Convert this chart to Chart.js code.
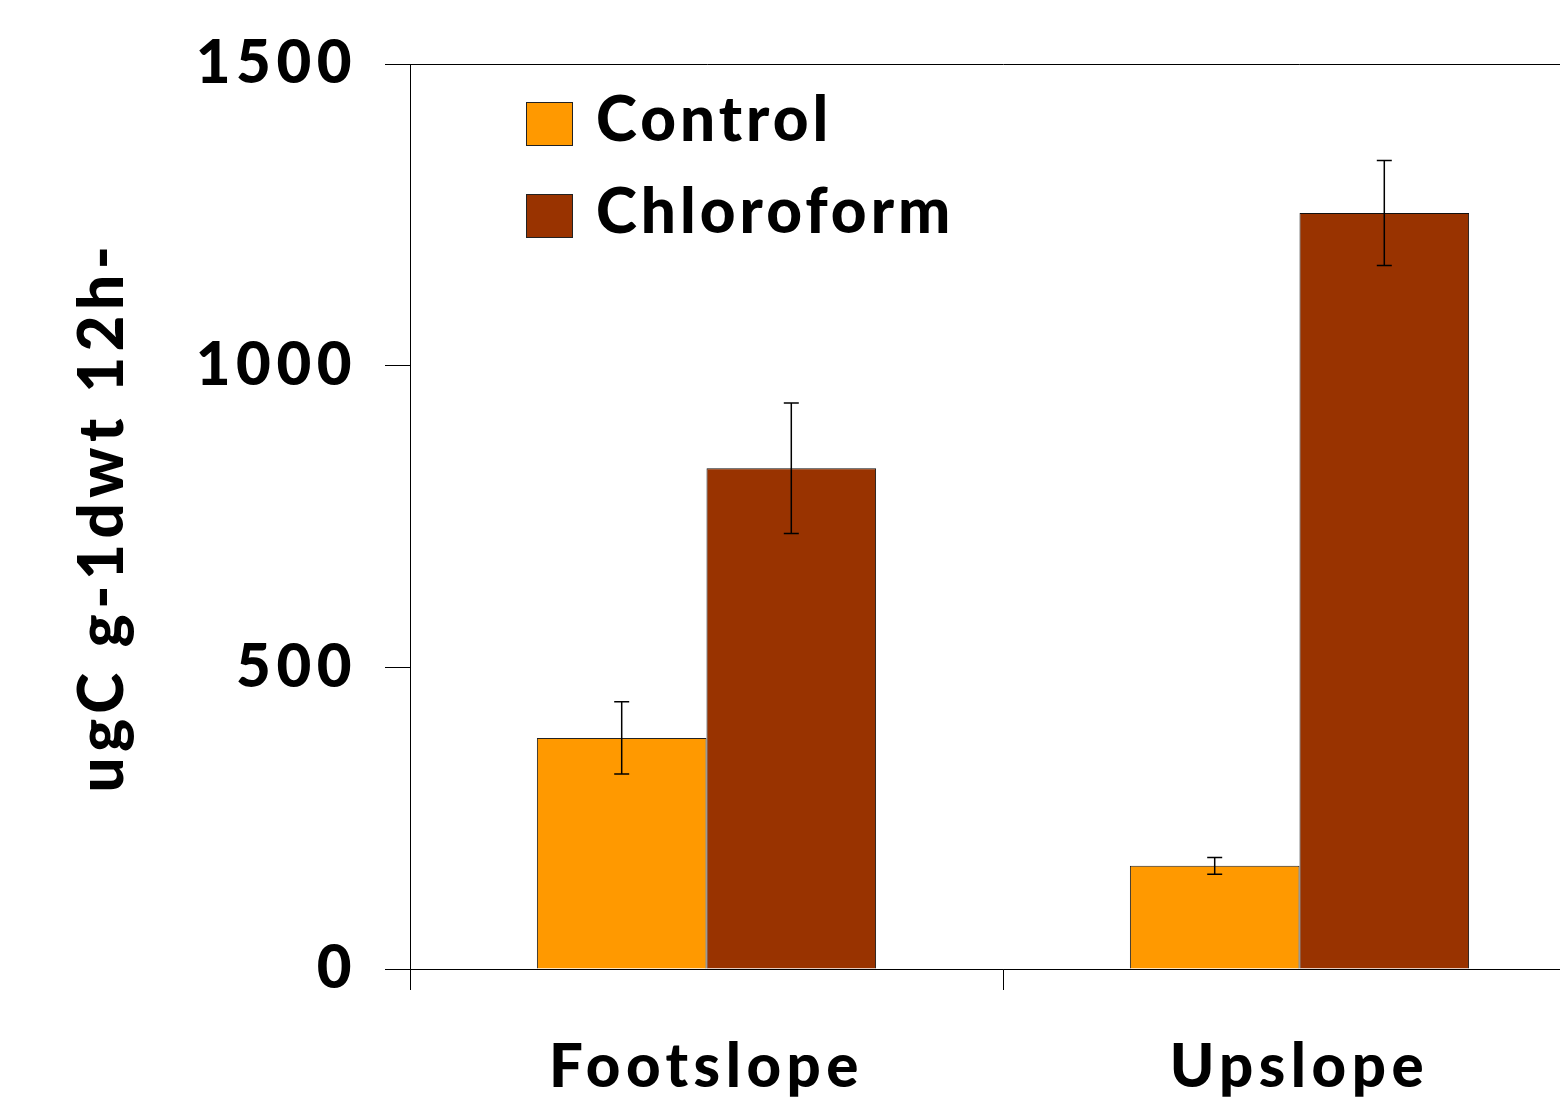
<!DOCTYPE html>
<html>
<head>
<meta charset="utf-8">
<script src="https://cdn.jsdelivr.net/npm/chart.js@4"></script>
<style>
  html, body { margin: 0; padding: 0; background: #fff; overflow: hidden; }
  #wrap { width: 1600px; height: 1103px; }
</style>
</head>
<body>
<div id="wrap"><canvas id="respChart" width="1600" height="1103"></canvas></div>
<script>
const categories = ['Footslope', 'Upslope'];
const controlValues = [383, 171];
const controlErrors = [60, 14];
const chloroformValues = [830, 1253];
const chloroformErrors = [108, 87];
const yTicks = [0, 500, 1000, 1500];

const FONT = 'Lato, "DejaVu Sans", sans-serif';
const WEIGHT = 900;

// wide, spaced-out lettering like the original
const spacing = {
    id: 'spacing',
    beforeDraw(chart) { chart.ctx.letterSpacing = '5.5px'; }
};

// error bars, drawn from the bar elements
const errorBars = {
    id: 'errorBars',
    afterDatasetsDraw(chart) {
        const ctx = chart.ctx;
        const y = chart.scales.y;
        ctx.save();
        ctx.strokeStyle = '#000';
        ctx.lineWidth = 1.5;
        chart.data.datasets.forEach((ds, i) => {
            chart.getDatasetMeta(i).data.forEach((bar, j) => {
                const v = ds.data[j], e = ds.errors[j];
                const top = y.getPixelForValue(v + e);
                const bot = y.getPixelForValue(v - e);
                ctx.beginPath();
                ctx.moveTo(bar.x, top); ctx.lineTo(bar.x, bot);
                ctx.moveTo(bar.x - 7.5, top); ctx.lineTo(bar.x + 7.5, top);
                ctx.moveTo(bar.x - 7.5, bot); ctx.lineTo(bar.x + 7.5, bot);
                ctx.stroke();
            });
        });
        ctx.restore();
    }
};

// legend inside the plot, upper left
const innerLegend = {
    id: 'innerLegend',
    afterDraw(chart) {
        const ctx = chart.ctx;
        const area = chart.chartArea;
        ctx.save();
        ctx.letterSpacing = '4px';
        ctx.font = WEIGHT + ' 62px ' + FONT;
        ctx.textBaseline = 'middle';
        chart.data.datasets.forEach((ds, i) => {
            const cy = area.top + 60 + i * 92;
            ctx.fillStyle = ds.backgroundColor;
            ctx.fillRect(area.left + 116, cy - 22, 47, 44);
            ctx.strokeStyle = '#222';
            ctx.lineWidth = 1;
            ctx.strokeRect(area.left + 116.5, cy - 21.5, 46, 43);
            ctx.fillStyle = '#000';
            ctx.fillText(ds.label, area.left + 186, cy - 3);
        });
        ctx.restore();
    }
};

new Chart(document.getElementById('respChart'), {
    type: 'bar',
    data: {
        labels: categories,
        datasets: [
            { label: 'Control', data: controlValues, errors: controlErrors,
              backgroundColor: '#FF9900', borderColor: '#222', borderWidth: 1 },
            { label: 'Chloroform', data: chloroformValues, errors: chloroformErrors,
              backgroundColor: '#993300', borderColor: '#111', borderWidth: 1 }
        ]
    },
    options: {
        responsive: false,
        animation: false,
        layout: { padding: { top: 61, right: 4, left: 0, bottom: 0 } },
        datasets: { bar: { barPercentage: 1, categoryPercentage: 0.572 } },
        plugins: { legend: { display: false }, tooltip: { enabled: false } },
        scales: {
            x: {
                grid: { offset: true, drawOnChartArea: false, color: '#000', tickLength: 21, lineWidth: 1 },
                border: { color: '#000', width: 1 },
                ticks: { color: '#000', padding: 42, font: { family: FONT, size: 60, weight: WEIGHT } },
                afterFit(s) { s.height = 134; }
            },
            y: {
                min: 0, max: 1500,
                afterBuildTicks(s) { s.ticks = yTicks.map(v => ({ value: v })); },
                grid: {
                    color: c => (c.tick && (c.tick.value === 0 || c.tick.value === 1500)) ? '#000' : 'rgba(0,0,0,0)',
                    tickColor: '#000', tickLength: 25, lineWidth: 1
                },
                border: { color: '#000', width: 1 },
                ticks: { color: '#000', padding: 28, font: { family: FONT, size: 60, weight: WEIGHT },
                         callback: v => String(v) },
                title: {
                    display: true, text: 'ugC g-1dwt 12h-', color: '#000',
                    font: { family: FONT, size: 62, weight: WEIGHT },
                    padding: { top: 66, bottom: 0 }
                },
                afterFit(s) { s.width = 410; }
            }
        }
    },
    plugins: [spacing, errorBars, innerLegend]
});
</script>
</body>
</html>
